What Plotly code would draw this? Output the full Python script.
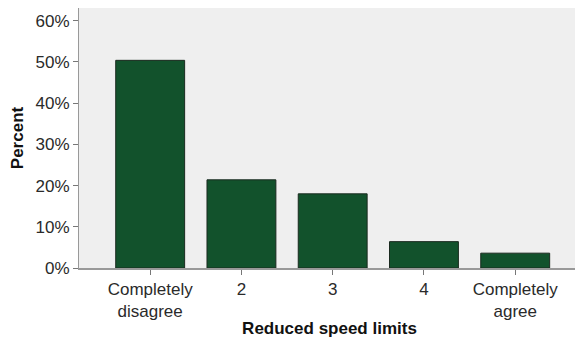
import plotly.graph_objects as go

categories = ["Completely<br>disagree", "2", "3", "4", "Completely<br>agree"]
percent = [50.4, 21.4, 18.0, 6.4, 3.6]
y_ticks = [0, 10, 20, 30, 40, 50, 60]
y_tick_labels = ["0%", "10%", "20%", "30%", "40%", "50%", "60%"]

fig = go.Figure(go.Bar(
    x=list(range(len(categories))), y=percent, width=0.755,
    marker=dict(color="#12522c", line=dict(color="#1a2a1f", width=1)),
))
fig.update_layout(
    width=575, height=330,
    margin=dict(l=71, r=3, t=0, b=70, autoexpand=False),
    paper_bgcolor="white", plot_bgcolor="#efefef",
    font=dict(family="Liberation Sans, Arial", size=17, color="#2a2a2a"),
    showlegend=False,
)
fig.update_xaxes(
    range=[-0.78, 4.71], tickmode="array", tickvals=list(range(len(categories))),
    ticktext=categories, ticks="outside", ticklen=5, tickcolor="#777",
    showline=True, linecolor="#999", linewidth=1.5, mirror=True, showgrid=False,
    zeroline=False, automargin=False,
    title=dict(text="<b>Reduced speed limits</b>", font=dict(size=17, color="#111"), standoff=7),
)
fig.update_yaxes(
    range=[0, 63.1], tickmode="array", tickvals=y_ticks, ticktext=y_tick_labels,
    ticks="outside", ticklen=5, tickcolor="#777",
    showline=True, linecolor="#999", linewidth=1, mirror=False, showgrid=False,
    zeroline=False, automargin=False,
    title=dict(text="<b>Percent</b>", font=dict(size=17, color="#111"), standoff=9),
)
fig.write_html("out.html")
